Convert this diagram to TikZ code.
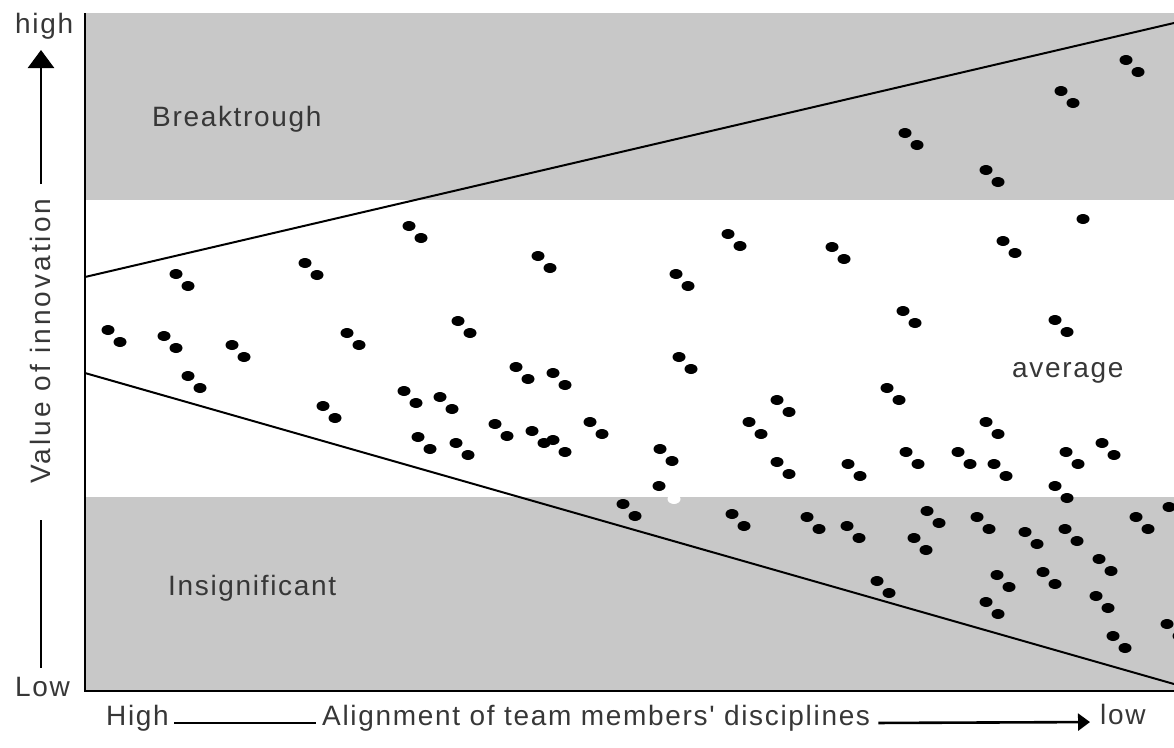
\documentclass[tikz,border=0pt]{standalone}
\usepackage{fontspec}
\setmainfont{Liberation Sans}
\newfontfamily\lblfont[LetterSpace=6]{Liberation Sans}
\newfontfamily\vlblfont[LetterSpace=11]{Liberation Sans}
\usetikzlibrary{arrows.meta}
\definecolor{band}{RGB}{200,200,200}
\definecolor{txt}{RGB}{55,55,55}
\begin{document}
\begin{tikzpicture}[x=1pt,y=-1pt,
  lbl/.style={font=\lblfont\fontsize{28}{32}\selectfont, text=txt, inner sep=0pt},
  vlbl/.style={font=\vlblfont\fontsize{28}{32}\selectfont, text=txt, inner sep=0pt},
  blob/.style={fill=black},
  wblob/.style={fill=white},
  axisline/.style={line width=2.4pt},
  diag/.style={line width=2pt},
  guide/.style={line width=2.6pt},
  ]
\useasboundingbox (0,0) rectangle (1174,747);
% bands
\fill[band] (85,13) rectangle (1174,200);
\fill[band] (85,497) rectangle (1174,691);
\begin{scope}
\clip (85,0) rectangle (1174,691);
\draw[diag] (85,277) -- (1174,23);
\draw[diag] (85,373) -- (1174,684);
\foreach \x/\y in {
  905/133, 986/170, 1061/91, 1126/60,
  108/330, 164/336, 176/274, 188/376, 232/345, 305/263, 323/406, 347/333,
  404/391, 409/226, 418/437, 440/397, 456/443, 458/321, 495/424, 516/367,
  532/431, 538/256, 553/373, 553/440, 590/422, 660/449, 676/274, 679/357,
  728/234, 749/422, 777/400, 777/462, 832/247, 848/464, 887/388, 903/311,
  906/452, 958/452, 986/422, 994/464, 1003/241, 1055/320, 1066/452, 1102/443,
  1055/486,
  623/504, 732/514, 807/517, 847/526, 877/581, 914/538, 927/511, 977/517,
  986/602, 997/575, 1025/532, 1043/572, 1065/529, 1096/596, 1099/559,
  1113/636, 1136/517, 1169/507, 1167/624}
{
  \fill[blob] (\x,\y) ellipse (6.5 and 5);
  \fill[blob] (\x+12,\y+12) ellipse (6.5 and 5);
}
\fill[blob] (1083,219) ellipse (6.5 and 5);
\fill[blob] (659,486) ellipse (6.5 and 5);
\fill[wblob] (674,499) ellipse (6.5 and 5);
\end{scope}
% axes
\draw[axisline] (85,13) -- (85,691) -- (1174,691);
% region labels
\node[lbl, anchor=base west] (brk) at (152,126) {Breaktrough};
\node[lbl, anchor=base west] (ins) at (168,595) {Insignificant};
\node[lbl, anchor=base west] (avg) at (1012,377) {average};
% y axis labels
\node[lbl, anchor=base west] (yhigh) at (15,33) {high};
\node[lbl, anchor=base west] (ylow) at (15,696) {Low};
\node[vlbl, rotate=90, anchor=base west] (yval) at (50,484) {Value of innovation};
\coordinate (yup1) at (41,184);
\coordinate (yup2) at (41,50);
\coordinate (ydn1) at (41,520);
\coordinate (ydn2) at (41,668);
\draw[guide, -{Triangle[width=26pt,length=18pt]}] (yup1) -- (yup2);
\draw[guide] (ydn1) -- (ydn2);
% x axis labels
\node[lbl, anchor=base west] (xhigh) at (106,725) {High};
\node[lbl, anchor=base west] (xal) at (322,725) {Alignment of team members' disciplines};
\node[lbl, anchor=base west] (xlow) at (1100,724) {low};
\draw[guide, shorten <=5pt, shorten >=6pt] ([yshift=2pt]xhigh.base east) -- ([yshift=2pt]xal.base west);
\draw[guide, shorten <=8pt, shorten >=10pt, -{Triangle[width=17pt,length=12pt]}] ([yshift=2pt]xal.base east) -- ([yshift=2pt]xlow.base west);
\end{tikzpicture}
\end{document}
